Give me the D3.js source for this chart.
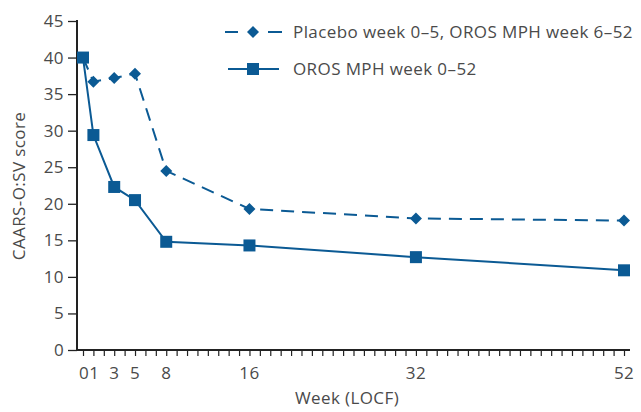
<!DOCTYPE html>
<html>
<head>
<meta charset="utf-8">
<script src="https://cdn.jsdelivr.net/npm/d3@7"></script>
<style>
  body { margin: 0; background: #fff; }
  text { font-family: "Open Sans", "Liberation Sans", sans-serif; fill: #4a4a4a; letter-spacing: 0.4px; }
</style>
</head>
<body>
<svg id="chart"></svg>
<script>
const weeks = [0, 1, 3, 5, 8, 16, 32, 52];
const placebo = [40, 36.7, 37.2, 37.8, 24.5, 19.3, 18.0, 17.7];
const oros = [40, 29.4, 22.3, 20.5, 14.8, 14.3, 12.7, 10.9];
const weekTicks = [0, 1, 3, 5, 8, 16, 32, 52];
const scoreTicks = [0, 5, 10, 15, 20, 25, 30, 35, 40, 45];
const seriesNames = ["Placebo week 0\u20135, OROS MPH week 6\u201352", "OROS MPH week 0\u201352"];

const width = 641, height = 412;
const blue = "#0b5a94";

const svg = d3.select("#chart").attr("width", width).attr("height", height);

const x = d3.scaleLinear().domain([0, 52]).range([83, 624]);
const y = d3.scaleLinear().domain([0, 45]).range([350, 21]);

// y axis
const yAxis = svg.append("g")
  .attr("transform", "translate(77,0)")
  .call(d3.axisLeft(y).tickValues(scoreTicks).tickSize(9).tickPadding(4))
yAxis.select(".domain").remove();
yAxis.selectAll("line").attr("stroke", "#222").attr("stroke-width", 1.3);
yAxis.selectAll("text").attr("font-size", 17).style("fill", "#4a4a4a");
svg.append("line").attr("x1", 77).attr("x2", 77).attr("y1", 20).attr("y2", 351)
  .attr("stroke", "#222").attr("stroke-width", 2);

// x axis
const xAxis = svg.append("g")
  .attr("transform", "translate(0,351)")
  .call(d3.axisBottom(x).tickValues(d3.range(0, 53)).tickSize(5).tickFormat(""));
xAxis.select(".domain").remove();
xAxis.selectAll("line").attr("stroke", "#222").attr("stroke-width", 1.2);
svg.append("line").attr("x1", 76).attr("x2", 630).attr("y1", 350).attr("y2", 350)
  .attr("stroke", "#222").attr("stroke-width", 2);
svg.append("g").selectAll("text")
  .data(weekTicks)
  .join("text")
  .attr("x", d => d <= 1 ? x(d) + 1 : x(d))
  .attr("y", 379)
  .attr("text-anchor", "middle")
  .attr("font-size", 17)
  .text(d => d);

// axis titles
svg.append("text")
  .attr("x", 347).attr("y", 404)
  .attr("text-anchor", "middle").attr("font-size", 17)
  .text("Week (LOCF)");
svg.append("text")
  .attr("transform", "translate(25,186) rotate(-90)")
  .attr("text-anchor", "middle").attr("font-size", 17)
  .text("CAARS-O:SV score");

const line = d3.line().x(d => x(d[0])).y(d => y(d[1]));
const placeboData = weeks.map((w, i) => [w, placebo[i]]);
const orosData = weeks.map((w, i) => [w, oros[i]]);

svg.append("path").datum(placeboData)
  .attr("d", line).attr("fill", "none").attr("stroke", blue)
  .attr("stroke-width", 2).attr("stroke-dasharray", "13,8");
svg.append("path").datum(orosData)
  .attr("d", line).attr("fill", "none").attr("stroke", blue)
  .attr("stroke-width", 2);

const diamond = d3.symbol().type(d3.symbolSquare).size(72);
svg.append("g").selectAll("path")
  .data(placeboData.slice(1))
  .join("path")
  .attr("transform", d => `translate(${x(d[0])},${y(d[1])}) rotate(45)`)
  .attr("d", diamond)
  .attr("fill", blue);
svg.append("g").selectAll("rect")
  .data(orosData)
  .join("rect")
  .attr("x", d => x(d[0]) - 6).attr("y", d => y(d[1]) - 6)
  .attr("width", 12).attr("height", 12)
  .attr("fill", blue);

// legend
const lg = svg.append("g");
lg.append("line").attr("x1", 225).attr("x2", 238).attr("y1", 32).attr("y2", 32)
  .attr("stroke", blue).attr("stroke-width", 2);
lg.append("line").attr("x1", 268).attr("x2", 282).attr("y1", 32).attr("y2", 32)
  .attr("stroke", blue).attr("stroke-width", 2);
lg.append("path").attr("transform", "translate(253,32) rotate(45)")
  .attr("d", diamond).attr("fill", blue);
lg.append("line").attr("x1", 228).attr("x2", 279).attr("y1", 69).attr("y2", 69)
  .attr("stroke", blue).attr("stroke-width", 2);
lg.append("rect").attr("x", 247).attr("y", 63).attr("width", 12).attr("height", 12).attr("fill", blue);
lg.selectAll("text.lab").data(seriesNames).join("text")
  .attr("x", 293).attr("y", (d, i) => 38 + i * 37)
  .attr("font-size", 17)
  .text(d => d);
</script>
</body>
</html>
